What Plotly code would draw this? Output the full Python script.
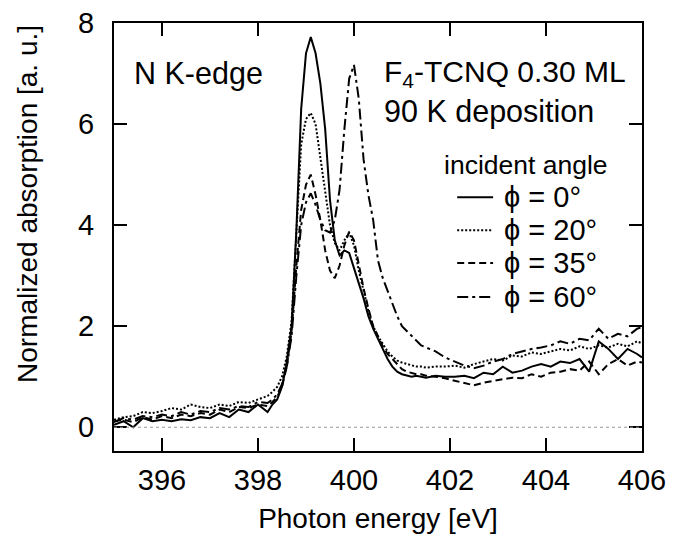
import plotly.graph_objects as go

# photon energy grid [eV]
energy = [395.0, 395.2, 395.4, 395.6, 395.8, 396.0, 396.2, 396.4, 396.6, 396.8,
          397.0, 397.2, 397.4, 397.6, 397.8, 398.0, 398.2,
          398.3, 398.4, 398.5, 398.6, 398.7, 398.8, 398.9, 399.0, 399.1, 399.2,
          399.3, 399.4, 399.5, 399.6, 399.7, 399.8, 399.9, 400.0, 400.1, 400.2,
          400.3, 400.4, 400.5, 400.6, 400.7, 400.8, 400.9, 401.0, 401.1, 401.2,
          401.3, 401.4, 401.5,
          401.7, 401.9, 402.1, 402.3, 402.5, 402.7, 402.9, 403.1, 403.3, 403.5,
          403.7, 403.9, 404.1, 404.3, 404.5, 404.7, 404.9, 405.1, 405.3, 405.5,
          405.7, 405.9, 406.0]

phi_0 = [0.05, 0.12, 0.00, 0.18, 0.12, 0.15, 0.12, 0.16, 0.14, 0.20,
         0.18, 0.28, 0.20, 0.35, 0.30, 0.45, 0.30,
         0.45, 0.55, 0.80, 1.30, 2.00, 3.90, 6.30, 7.40, 7.72, 7.40,
         6.80, 5.90, 4.50, 3.70, 3.40, 3.50, 3.45, 3.15, 2.85, 2.55,
         2.20, 1.95, 1.75, 1.55, 1.35, 1.20, 1.10, 1.05, 1.02, 1.00,
         1.02, 1.00, 0.98,
         1.02, 1.00, 1.00, 1.02, 0.97, 1.08, 1.05, 1.20, 1.08, 1.12,
         1.20, 1.25, 1.20, 1.30, 1.27, 1.35, 1.10, 1.70, 1.55, 1.35,
         1.55, 1.45, 1.38]

phi_20 = [0.15, 0.20, 0.22, 0.30, 0.28, 0.32, 0.38, 0.35, 0.45, 0.40,
          0.38, 0.45, 0.42, 0.50, 0.48, 0.55, 0.62,
          0.70, 0.80, 1.00, 1.40, 2.10, 3.90, 5.60, 6.10, 6.22, 6.00,
          5.35, 4.60, 4.00, 3.65, 3.50, 3.70, 3.85, 3.60, 3.10, 2.70,
          2.30, 2.00, 1.80, 1.65, 1.50, 1.40, 1.32, 1.28, 1.25, 1.22,
          1.20, 1.20, 1.18,
          1.20, 1.20, 1.22, 1.18, 1.25, 1.30, 1.35, 1.32, 1.42, 1.40,
          1.48, 1.45, 1.50, 1.55, 1.52, 1.60, 1.55, 1.62, 1.58, 1.65,
          1.60, 1.70, 1.66]

phi_35 = [0.12, 0.15, 0.10, 0.20, 0.15, 0.22, 0.18, 0.25, 0.22, 0.28,
          0.25, 0.35, 0.30, 0.40, 0.38, 0.45, 0.42,
          0.50, 0.60, 0.80, 1.20, 1.90, 3.20, 4.30, 4.80, 5.00, 4.60,
          4.10, 3.50, 3.10, 2.95, 3.20, 3.60, 3.87, 3.70, 3.20, 2.75,
          2.35, 2.00, 1.80, 1.60, 1.45, 1.35, 1.25, 1.15, 1.10, 1.08,
          1.05, 1.05, 1.02,
          1.00, 0.97, 0.92, 0.88, 0.83, 0.88, 0.92, 0.95, 0.98, 0.97,
          1.05, 1.00, 1.08, 1.10, 1.15, 1.12, 1.30, 1.05, 1.25, 1.35,
          1.22, 1.30, 1.28]

phi_60 = [0.10, 0.18, 0.15, 0.22, 0.20, 0.25, 0.22, 0.30, 0.25, 0.32,
          0.30, 0.38, 0.35, 0.42, 0.40, 0.50, 0.48,
          0.55, 0.65, 0.85, 1.20, 1.80, 3.00, 4.00, 4.45, 4.63, 4.40,
          4.10, 3.90, 3.85, 4.10, 4.70, 5.90, 6.90, 7.17, 6.50, 5.30,
          4.60, 4.10, 3.30, 2.95, 2.70, 2.45, 2.20, 2.00, 1.90, 1.80,
          1.70, 1.62, 1.58,
          1.50, 1.38, 1.30, 1.22, 1.17, 1.22, 1.30, 1.35, 1.45, 1.50,
          1.55, 1.58, 1.62, 1.70, 1.65, 1.75, 1.72, 1.95, 1.75, 1.85,
          1.80, 1.95, 1.98]

series = [
    ("\u03d5 = 0\u00b0", phi_0, "solid"),
    ("\u03d5 = 20\u00b0", phi_20, "2px,2px"),
    ("\u03d5 = 35\u00b0", phi_35, "7px,4px"),
    ("\u03d5 = 60\u00b0", phi_60, "11px,4px,3px,4px"),
]

FONT = "Liberation Sans, Arial, sans-serif"

fig = go.Figure()
for name, vals, dash in series:
    fig.add_trace(go.Scatter(x=energy, y=vals, mode="lines", name=name,
                             line=dict(color="black", width=2, dash=dash),
                             showlegend=False))

# dotted zero line
fig.add_shape(type="line", xref="x", yref="y", x0=395, x1=406, y0=0, y1=0,
              line=dict(color="#999999", width=1, dash="dot"))

# hand-made legend
rows_y = [0.593, 0.516, 0.439, 0.360]
for (name, vals, dash), ry in zip(series, rows_y):
    fig.add_shape(type="line", xref="paper", yref="paper", x0=0.650, x1=0.718,
                  y0=ry, y1=ry, line=dict(color="black", width=2, dash=dash))
    fig.add_annotation(x=0.735, y=ry, xref="paper", yref="paper", text=name,
                       showarrow=False, xanchor="left", yanchor="middle",
                       font=dict(size=29, color="black", family=FONT))
fig.add_annotation(x=0.622, y=0.668, xref="paper", yref="paper", text="incident angle",
                   showarrow=False, xanchor="left", yanchor="middle",
                   font=dict(size=26.5, color="black", family=FONT))

fig.add_annotation(x=0.034, y=0.883, xref="paper", yref="paper", text="N K-edge",
                   showarrow=False, xanchor="left", yanchor="middle",
                   font=dict(size=30.5, color="black", family=FONT))
fig.add_annotation(x=0.507, y=0.882, xref="paper", yref="paper",
                   text="F<sub>4</sub>-TCNQ 0.30 ML",
                   showarrow=False, xanchor="left", yanchor="middle",
                   font=dict(size=30, color="black", family=FONT))
fig.add_annotation(x=0.507, y=0.794, xref="paper", yref="paper", text="90 K deposition",
                   showarrow=False, xanchor="left", yanchor="middle",
                   font=dict(size=30.5, color="black", family=FONT))

# y-axis title as a rotated annotation (sits above the plot centre in the original)
fig.add_annotation(x=-0.165, y=0.577, xref="paper", yref="paper",
                   text="Normalized absorption [a. u.]", textangle=-90,
                   showarrow=False, xanchor="center", yanchor="middle",
                   font=dict(size=28, color="black", family=FONT))

axis_common = dict(showline=True, linecolor="black", linewidth=2, mirror="ticks",
                   ticks="inside", ticklen=13, tickwidth=2, tickcolor="black",
                   showgrid=False, zeroline=False, automargin=False,
                   tickfont=dict(size=29, color="black", family=FONT))

fig.update_xaxes(range=[395, 406.001], tick0=396, dtick=2,
                 title=dict(text="Photon energy [eV]", standoff=14,
                            font=dict(size=28, color="black", family=FONT)),
                 ticklabelstandoff=2, **axis_common)
fig.update_yaxes(range=[-0.47, 8.0], tick0=0, dtick=2,
                 ticklabelstandoff=12, **axis_common)

fig.update_layout(width=675, height=544, plot_bgcolor="white", paper_bgcolor="white",
                  margin=dict(l=114, r=33, t=23, b=93),
                  font=dict(family=FONT, color="black"))

fig.write_html("out.html", config={"displayModeBar": False},
               post_script="document.body.style.margin='0';")
